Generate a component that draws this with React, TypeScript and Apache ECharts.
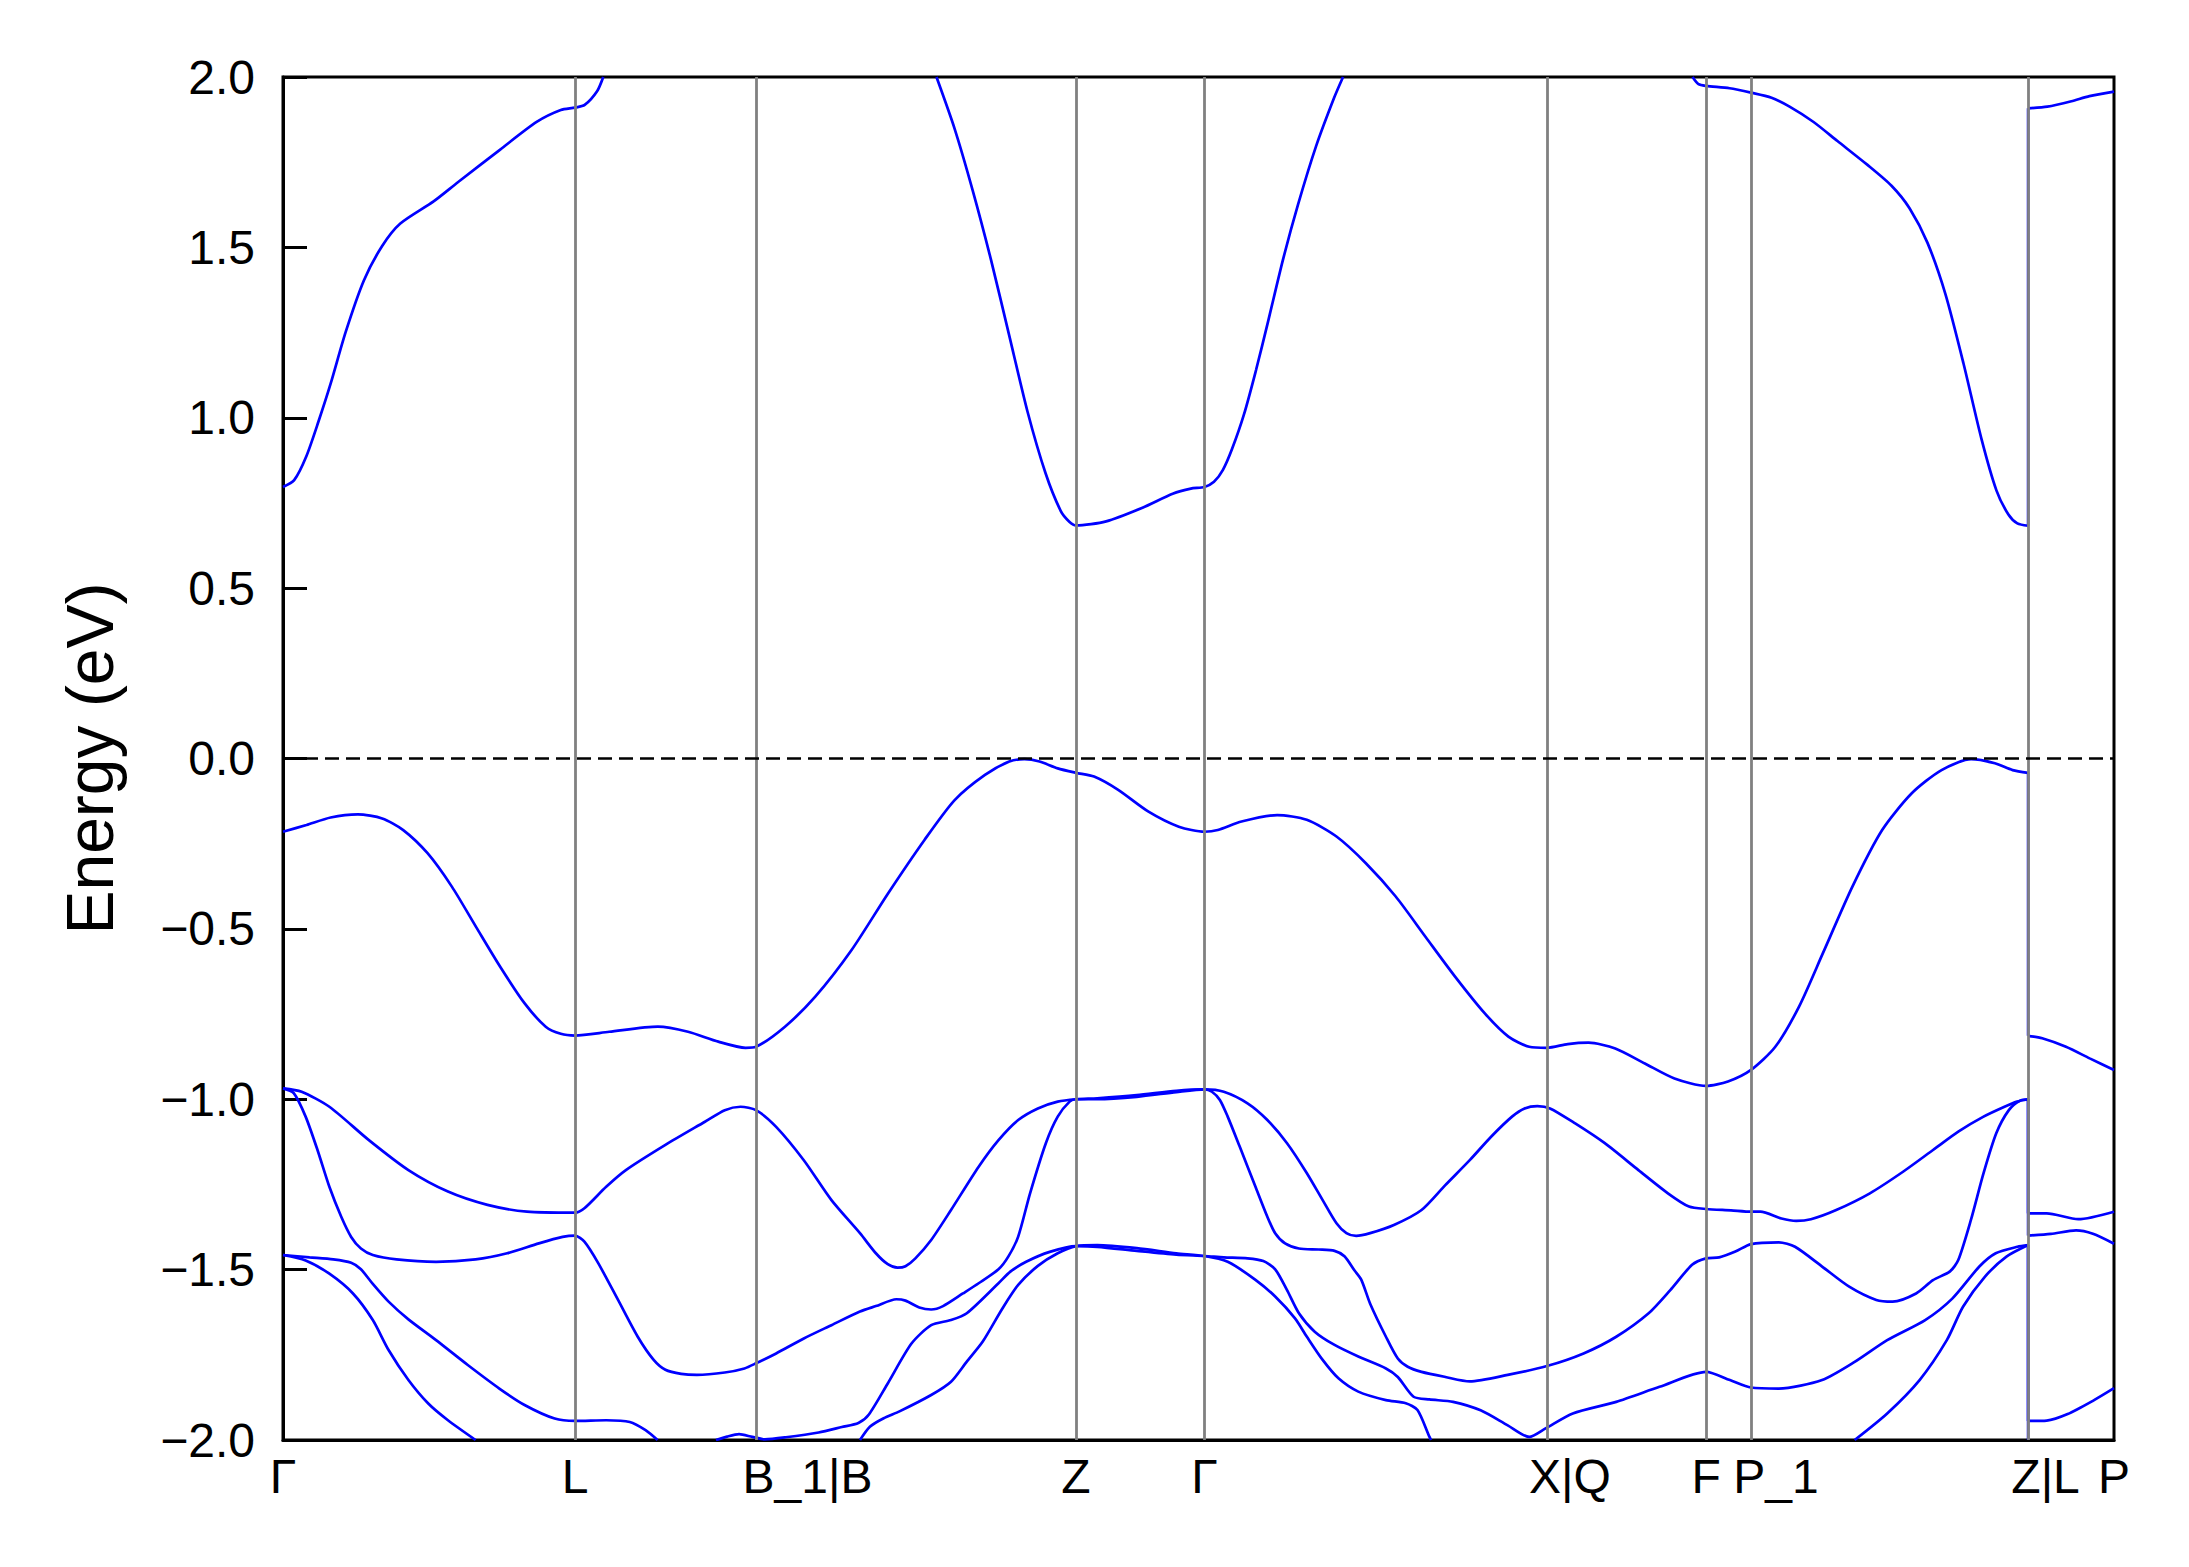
import React, { useEffect, useRef } from "react";
import * as echarts from "echarts";

// k-path distance (arbitrary units) of the high-symmetry points
const kTicks = [0, 209.1, 338.7, 567.8, 659.8, 905.0, 1018.9, 1051.1, 1249.5, 1311];
const kLabels = ["Γ", "L", "B_1|B", "Z", "Γ", "X|Q", "F", "P_1", "Z|L", "P"];
const kLabelPos = [0, 209.1, 375.5, 567.8, 659.8, 921.5, 1018.9, 1069.0, 1262.0, 1311];

const eMin = -2.0;
const eMax = 2.0;
const eStep = 0.5;
const fermiLevel = 0.0;

// ---- conduction band ----
const cbGammaL = [
  [0, 0.797], [8.0, 0.817], [16.8, 0.888], [25.4, 0.989], [34.1, 1.1], [44.9, 1.252],
  [57.9, 1.403], [71.0, 1.504], [84.0, 1.57], [107.8, 1.635], [125.2, 1.691], [155.5, 1.787],
  [181.6, 1.868], [198.9, 1.903], [209.1, 1.91], [216.0, 1.918], [225.0, 1.959], [229.3, 2.0],
];
const cbZGamma = [
  [467.9, 2.0], [480.9, 1.848], [493.9, 1.666], [506.9, 1.464], [520.0, 1.241], [533.0, 1.019],
  [546.0, 0.837], [556.9, 0.726], [563.0, 0.695], [567.8, 0.684], [589.4, 0.696], [615.4, 0.736],
  [637.0, 0.777], [650.0, 0.792], [659.8, 0.797], [666.6, 0.812], [673.0, 0.847], [679.5, 0.908],
  [688.0, 1.009], [696.7, 1.14], [705.3, 1.282], [716.0, 1.464], [726.8, 1.626], [739.7, 1.797],
  [752.6, 1.939], [759.0, 2.0],
];
const cbFZ = [
  [1009.2, 2.0], [1013.5, 1.979], [1018.9, 1.974], [1035.8, 1.967], [1051.1, 1.954], [1065.8, 1.939],
  [1078.7, 1.913], [1095.9, 1.868], [1113.0, 1.812], [1134.5, 1.742], [1151.7, 1.681], [1164.6, 1.615],
  [1177.4, 1.514], [1190.3, 1.363], [1203.2, 1.16], [1216.1, 0.938], [1226.8, 0.787], [1235.4, 0.716],
  [1241.8, 0.69], [1249.5, 0.683],
];
const cbLP = [
  [1249.5, 1.908], [1263.3, 1.913], [1280.5, 1.929], [1293.4, 1.944], [1311, 1.957],
];

// ---- highest valence band ----
const vb1Left = [
  [0, -0.215], [16.8, -0.195], [34.1, -0.173], [53.6, -0.164], [71.0, -0.176], [86.1, -0.21],
  [103.5, -0.278], [120.9, -0.376], [138.2, -0.494], [155.5, -0.611], [172.9, -0.718], [188.1, -0.787],
  [198.9, -0.808], [209.1, -0.813], [233.6, -0.802], [268.4, -0.787], [290.0, -0.802], [311.7, -0.831],
  [331.2, -0.849], [338.7, -0.846], [359.4, -0.787], [381.1, -0.699], [407.1, -0.562], [433.2, -0.396],
  [459.3, -0.239], [480.9, -0.122], [502.6, -0.048], [520.0, -0.009], [530.8, -0.002], [541.7, -0.009],
  [554.7, -0.029], [567.8, -0.042], [580.7, -0.053], [598.0, -0.092], [619.7, -0.156], [641.4, -0.2],
  [659.8, -0.215], [669.3, -0.21], [686.3, -0.185], [711.8, -0.166], [733.0, -0.18], [754.3, -0.229],
  [775.5, -0.308], [796.7, -0.405], [818.0, -0.523], [839.2, -0.64], [860.5, -0.748], [877.4, -0.816],
  [892.3, -0.846], [905.0, -0.849], [919.9, -0.838], [934.8, -0.834], [953.9, -0.851], [975.1, -0.895],
  [996.3, -0.939], [1018.9, -0.961], [1034.6, -0.948], [1051.1, -0.914], [1068.5, -0.846], [1085.5, -0.728],
  [1102.5, -0.572], [1123.7, -0.376], [1145.0, -0.21], [1166.2, -0.102], [1187.5, -0.034], [1208.7, -0.002],
  [1225.7, -0.014], [1238.4, -0.034], [1249.5, -0.042],
];
const vb1Right = [
  [1249.5, -0.814], [1259.6, -0.821], [1276.6, -0.846], [1293.6, -0.88], [1311, -0.914],
];

// ---- second valence band ----
const vb2Left = [
  [0, -0.968], [13.3, -0.978], [33.2, -1.022], [61.5, -1.12], [89.8, -1.208], [118.1, -1.271],
  [146.4, -1.31], [174.7, -1.33], [209.1, -1.333], [215.8, -1.32], [231.4, -1.257], [245.5, -1.208],
  [273.8, -1.134], [302.1, -1.066], [316.3, -1.032], [327.6, -1.022], [338.7, -1.032], [353.1, -1.081],
  [372.9, -1.179], [392.7, -1.296], [413.1, -1.393], [424.5, -1.452], [433.0, -1.484], [440.0, -1.494],
  [445.7, -1.49], [452.8, -1.467], [464.1, -1.413], [478.3, -1.325], [498.1, -1.198], [512.3, -1.12],
  [526.4, -1.061], [540.5, -1.027], [554.7, -1.007], [567.8, -1.0], [583.0, -0.997], [611.3, -0.988],
  [639.6, -0.975], [659.8, -0.971], [673.6, -0.978], [690.6, -1.012], [704.8, -1.061], [718.9, -1.129],
  [733.1, -1.217], [744.4, -1.296], [754.3, -1.364], [761.4, -1.393], [768.4, -1.401], [778.4, -1.393],
  [795.4, -1.369], [815.2, -1.325], [832.2, -1.252], [849.9, -1.178], [865.0, -1.11], [880.0, -1.051],
  [889.0, -1.027], [898.1, -1.02], [907.2, -1.027], [925.2, -1.071], [946.4, -1.129], [970.5, -1.208],
  [991.6, -1.276], [1006.7, -1.315], [1018.9, -1.322], [1036.8, -1.326], [1051.1, -1.33], [1057.8, -1.33],
  [1072.9, -1.35], [1083.5, -1.357], [1094.0, -1.352], [1112.1, -1.325], [1136.2, -1.276], [1160.2, -1.212],
  [1181.4, -1.149], [1199.5, -1.095], [1217.6, -1.051], [1232.6, -1.022], [1241.6, -1.007], [1249.5, -1.0],
];
const vb2Right = [
  [1249.5, -1.335], [1262.8, -1.335], [1285.4, -1.352], [1311, -1.33],
];

// ---- third valence band ----
const vb3Left = [
  [0, -0.968], [7.7, -0.982], [16.2, -1.051], [24.7, -1.149], [33.2, -1.257], [41.7, -1.345],
  [48.8, -1.404], [55.8, -1.438], [64.3, -1.457], [81.3, -1.47], [109.6, -1.477], [137.9, -1.47],
  [160.5, -1.452], [183.2, -1.423], [200.2, -1.404], [209.1, -1.4], [215.8, -1.418], [225.7, -1.481],
  [239.9, -1.589], [254.0, -1.697], [265.4, -1.765], [273.8, -1.794], [285.1, -1.806], [296.4, -1.809],
  [316.3, -1.802], [330.4, -1.79], [338.7, -1.775], [353.1, -1.746], [372.9, -1.702], [392.7, -1.663],
  [413.1, -1.623], [424.5, -1.607], [439.2, -1.587], [445.7, -1.591], [455.6, -1.611], [464.1, -1.617],
  [472.6, -1.607], [486.8, -1.57], [498.1, -1.54], [512.3, -1.499], [519.3, -1.462], [526.4, -1.403],
  [534.9, -1.276], [546.2, -1.129], [554.7, -1.051], [563.2, -1.007], [567.8, -1.0], [583.0, -1.0],
  [611.3, -0.993], [639.6, -0.979], [659.8, -0.971], [665.1, -0.978], [670.8, -1.002], [676.4, -1.051],
  [685.0, -1.139], [696.3, -1.257], [704.8, -1.345], [710.4, -1.393], [717.5, -1.423], [727.4, -1.438],
  [741.6, -1.441], [752.9, -1.445], [760.0, -1.461], [767.1, -1.502], [772.1, -1.53], [778.4, -1.6],
  [789.7, -1.697], [798.2, -1.761], [805.3, -1.785], [815.2, -1.8], [832.2, -1.815], [849.7, -1.828],
  [876.9, -1.809], [905.0, -1.783], [931.2, -1.746], [954.6, -1.697], [977.8, -1.628], [993.3, -1.56],
  [1008.9, -1.486], [1018.9, -1.467], [1028.3, -1.464], [1039.9, -1.447], [1051.1, -1.425], [1071.0, -1.42],
  [1082.6, -1.433], [1102.0, -1.491], [1121.4, -1.55], [1140.8, -1.589], [1152.5, -1.594], [1169.3, -1.57],
  [1181.4, -1.531], [1193.6, -1.505], [1199.5, -1.472], [1208.5, -1.355], [1217.6, -1.217], [1226.7, -1.1],
  [1235.7, -1.032], [1243.7, -1.004], [1249.5, -1.0],
];
const vb3Right = [
  [1249.5, -1.4], [1265.8, -1.395], [1283.8, -1.385], [1295.9, -1.395], [1311, -1.424],
];

// ---- fourth valence band ----
const vb4GammaL = [
  [0, -1.457], [19.0, -1.464], [36.0, -1.47], [48.8, -1.48], [55.8, -1.499], [64.3, -1.542],
  [75.6, -1.594], [89.8, -1.646], [109.6, -1.707], [132.3, -1.78], [154.9, -1.849], [173.3, -1.898],
  [194.5, -1.937], [209.1, -1.944], [231.4, -1.942], [248.3, -1.947], [259.6, -1.971], [268.2, -2.0],
];
const vb4Left = [
  [310.0, -2.0], [318.0, -1.99], [326.5, -1.983], [336.0, -1.991], [345.0, -1.998], [360.0, -1.992],
  [383.5, -1.978], [400.1, -1.962], [412.0, -1.95], [419.5, -1.925], [433.0, -1.834], [450.0, -1.717],
  [464.1, -1.663], [478.3, -1.648], [489.6, -1.628], [512.3, -1.54], [520.8, -1.506], [532.1, -1.477],
  [549.0, -1.448], [567.8, -1.431], [583.0, -1.433], [611.3, -1.445], [639.6, -1.456], [659.8, -1.46],
  [673.6, -1.464], [690.6, -1.467], [701.9, -1.475], [710.4, -1.499], [718.9, -1.56], [727.4, -1.628],
  [738.7, -1.682], [752.9, -1.721], [769.9, -1.755], [789.7, -1.79], [798.2, -1.815], [809.5, -1.873],
  [820.8, -1.881], [837.8, -1.888], [857.5, -1.913], [876.9, -1.957], [892.3, -1.991], [904.0, -1.966],
  [923.5, -1.922], [954.6, -1.888], [985.6, -1.844], [1018.9, -1.8], [1036.0, -1.824], [1051.1, -1.846],
  [1071.0, -1.849], [1102.0, -1.824], [1125.3, -1.771], [1148.6, -1.707], [1175.8, -1.648], [1195.2, -1.585],
  [1214.6, -1.491], [1226.3, -1.452], [1241.8, -1.433], [1249.5, -1.428],
];
const vb4Right = [
  [1249.5, -1.944], [1262.8, -1.943], [1277.8, -1.924], [1295.9, -1.885], [1311, -1.848],
];

// ---- fifth valence band (visible pieces) ----
const vb5GammaL = [
  [0, -1.457], [16.2, -1.473], [33.2, -1.512], [50.1, -1.57], [64.3, -1.648], [75.6, -1.736],
  [89.8, -1.824], [104.0, -1.893], [118.1, -1.942], [137.9, -2.0],
];
const vb5BZGamma = [
  [413.1, -2.0], [420.2, -1.961], [430.1, -1.936], [441.4, -1.916], [464.1, -1.868], [478.3, -1.829],
  [489.6, -1.77], [500.9, -1.712], [515.1, -1.614], [526.4, -1.545], [540.5, -1.489], [554.7, -1.452],
  [567.8, -1.431], [583.0, -1.428], [611.3, -1.437], [639.6, -1.452], [659.8, -1.46], [676.4, -1.477],
  [696.3, -1.53], [710.4, -1.579], [724.6, -1.643], [733.1, -1.697], [744.4, -1.765], [755.7, -1.819],
  [769.9, -1.858], [789.7, -1.883], [803.9, -1.892], [812.3, -1.912], [820.8, -1.99], [822.0, -2.0],
];
const vb5Left = [
  [1125.3, -2.0], [1148.6, -1.922], [1171.8, -1.824], [1191.3, -1.707], [1202.9, -1.609], [1218.5, -1.521],
  [1234.0, -1.462], [1249.5, -1.428],
];
const vb5Right = [[1249.5, -2.0]];

const bandPieces = [
  cbGammaL, cbZGamma, cbFZ, cbLP,
  vb1Left, vb1Right, vb2Left, vb2Right, vb3Left, vb3Right,
  vb4GammaL, vb4Left, vb4Right, vb5GammaL, vb5BZGamma, vb5Left,
];
// bands are continuous across the Z|L path break, which draws a vertical line
const breakPairs = [
  [cbFZ, cbLP], [vb1Left, vb1Right], [vb2Left, vb2Right], [vb3Left, vb3Right],
  [vb4Left, vb4Right], [vb5Left, vb5Right],
];

const FONT = "'Liberation Sans', Arial, Helvetica, sans-serif";
const BLUE = "#0000ff";

export default function App() {
  const ref = useRef<HTMLDivElement>(null);
  useEffect(() => {
    if (!ref.current) return;
    const chart = echarts.init(ref.current, null, { renderer: "svg" });

    const bandSeries = bandPieces.map((d) => ({
      type: "line",
      data: d,
      showSymbol: false,
      symbol: "none",
      smooth: 0.25,
      clip: true,
      z: 3,
      lineStyle: { color: BLUE, width: 2.7 },
      silent: true,
    }));
    const breakSeries = breakPairs.map(([a, b]) => ({
      type: "line",
      data: [a[a.length - 1], b[0]],
      showSymbol: false,
      symbol: "none",
      clip: true,
      z: 3,
      lineStyle: { color: BLUE, width: 2.7 },
      silent: true,
    }));

    const markSeries = {
      type: "line",
      data: [],
      z: 1,
      silent: true,
      markLine: {
        silent: true,
        symbol: ["none", "none"],
        animation: false,
        label: { show: false },
        data: [
          ...kTicks.slice(1, -1).map((k) => ({
            xAxis: k,
            lineStyle: { color: "#808080", width: 2.8, type: "solid" },
          })),
          {
            yAxis: fermiLevel,
            lineStyle: { color: "#000000", width: 2.5, type: [14, 7] },
          },
        ],
      },
    };

    chart.setOption({
      animation: false,
      backgroundColor: "#ffffff",
      grid: {
        left: 283,
        top: 77,
        width: 1831,
        height: 1363,
        show: true,
        borderColor: "#000",
        borderWidth: 3,
        containLabel: false,
        outerBoundsMode: "none",
      },
      xAxis: {
        type: "value",
        min: kTicks[0],
        max: kTicks[kTicks.length - 1],
        axisLine: { show: true, onZero: false, lineStyle: { color: "#000", width: 3 } },
        axisTick: { show: false },
        splitLine: { show: false },
        axisLabel: {
          customValues: kLabelPos,
          color: "#000",
          fontSize: 48,
          fontFamily: FONT,
          margin: 12,
          formatter: (v: number) => {
            let best = 0;
            for (let i = 0; i < kLabelPos.length; i++) {
              if (Math.abs(kLabelPos[i] - v) < Math.abs(kLabelPos[best] - v)) best = i;
            }
            return kLabels[best];
          },
        },
      },
      yAxis: {
        type: "value",
        min: eMin,
        max: eMax,
        interval: eStep,
        name: "Energy (eV)",
        nameLocation: "middle",
        nameRotate: 90,
        nameGap: 160,
        nameTextStyle: { color: "#000", fontSize: 66, fontFamily: FONT },
        axisLine: { show: true, lineStyle: { color: "#000", width: 3 } },
        axisTick: { show: true, inside: true, length: 24, lineStyle: { color: "#000", width: 3 } },
        splitLine: { show: false },
        axisLabel: {
          color: "#000",
          fontSize: 48,
          fontFamily: FONT,
          margin: 28,
          formatter: (v: number) => (v < 0 ? "\u2212" : "") + Math.abs(v).toFixed(1),
        },
      },
      series: [markSeries, ...bandSeries, ...breakSeries],
    });
    return () => chart.dispose();
  }, []);
  return (
    <div
      ref={ref}
      style={{ position: "absolute", left: 0, top: 0, width: 2189, height: 1567 }}
    />
  );
}
